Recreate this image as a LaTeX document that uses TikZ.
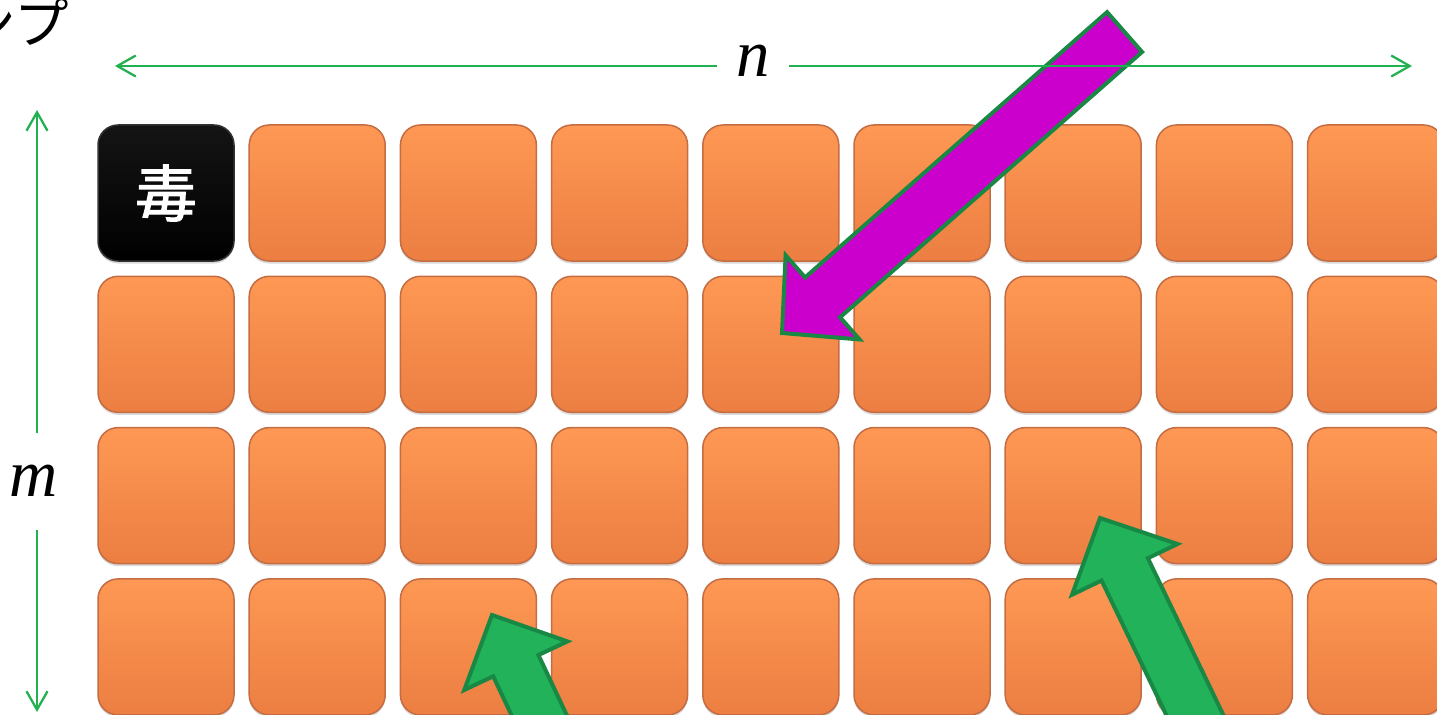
\documentclass[tikz,border=0pt]{standalone}
\usepackage{fontspec}
\newfontfamily\cjk{Noto Sans CJK JP}
\newfontfamily\cjkheavy[FakeBold=2]{Noto Sans CJK JP}
\newfontfamily\varfont{Liberation Serif}
\usetikzlibrary{arrows.meta,shadows}
\definecolor{tiletop}{RGB}{254,152,84}
\definecolor{tilemid}{RGB}{250,142,76}
\definecolor{tilebot}{RGB}{236,126,66}
\definecolor{tileedge}{RGB}{196,108,66}
\definecolor{dimgreen}{RGB}{34,177,80}
\definecolor{arrowedge}{RGB}{24,136,68}
\definecolor{arrowfill}{RGB}{34,178,90}
\definecolor{pointer}{RGB}{204,0,204}
\begin{document}
\begin{tikzpicture}[
  x=0.2mm, y=-0.2mm,
  tile/.style={rounded corners=4mm, minimum size=27.2mm, inner sep=0pt,
    draw=tileedge, line width=0.3mm, top color=tiletop, middle color=tilemid, bottom color=tilebot,
    drop shadow={shadow xshift=0mm, shadow yshift=-0.5mm, opacity=0.3}},
  poison/.style={tile, draw=black!80, top color=black!92, middle color=black, bottom color=black,
    text=white, font=\cjkheavy\fontsize{35}{40}\selectfont},
  dimline/.style={draw=dimgreen, line width=0.45mm,
    >={Straight Barb[length=3.7mm,width=4.2mm]}, <->},
  dimlabel/.style={fill=white, inner sep=0pt, font=\varfont\itshape\fontsize{38}{44}\selectfont},
  blockarrow/.style={draw=arrowedge, line width=0.8mm, line join=miter}
]
\useasboundingbox (0,0) rectangle (1437,714);

\node[anchor=base east, inner sep=0pt, font=\cjk\fontsize{31}{36}\selectfont] (title) at (69,44) {ンプ};

\foreach \r in {0,...,3}
  \foreach \c in {0,...,8} {
    \ifnum\numexpr\r+\c\relax=0
      \node[poison] (t-\r-\c) at ({166+151.2*\c},{193+151.3*\r}) {毒};
    \else
      \node[tile] (t-\r-\c) at ({166+151.2*\c},{193+151.3*\r}) {};
    \fi
  }

\begin{scope}[shift={(782,333)}, rotate=221.3]
  \draw[blockarrow, fill=pointer] (0,0) -- (-54,56) -- (-54,26.5) -- (-456,26.5)
    -- (-456,-26.5) -- (-54,-26.5) -- (-54,-56) -- cycle;
\end{scope}
\begin{scope}[shift={(492,615)}, rotate=115.2]
  \draw[blockarrow, fill=arrowfill] (0,0) -- (-56,57) -- (-56,25) -- (-230,25)
    -- (-230,-25) -- (-56,-25) -- (-56,-57) -- cycle;
\end{scope}
\begin{scope}[shift={(1100,518)}, rotate=115.7]
  \draw[blockarrow, fill=arrowfill] (0,0) -- (-57,58.5) -- (-57,25.7) -- (-260,25.7)
    -- (-260,-25.7) -- (-57,-25.7) -- (-57,-58.5) -- cycle;
\end{scope}

\coordinate (n-left) at (115,66);
\coordinate (n-right) at (1412,66);
\coordinate (m-top) at (37,110);
\coordinate (m-bot) at (37,712);
\draw[dimline] (n-left) -- (n-right);
\draw[dimline] (m-top) -- (m-bot);
\node[dimlabel, minimum width=14.4mm, minimum height=10mm] (n-label) at (753,61) {n};
\node[dimlabel, minimum width=12mm, minimum height=19.4mm] (m-label) at (34,481) {m};
\end{tikzpicture}
\end{document}
